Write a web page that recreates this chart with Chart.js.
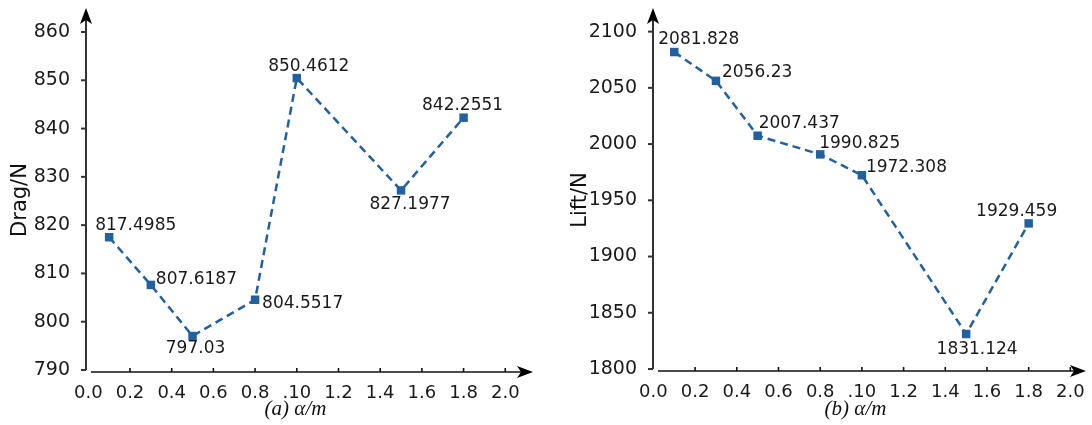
<!DOCTYPE html>
<html>
<head>
<meta charset="utf-8">
<script src="https://cdn.jsdelivr.net/npm/chart.js@4.4.1/dist/chart.umd.min.js"></script>
<style>
  body { margin: 0; background: #fff; }
  .wrap { display: flex; width: 1092px; height: 425px; }
  canvas { display: block; }
</style>
</head>
<body>
<div class="wrap">
  <canvas id="dragChart" width="546" height="425"></canvas>
  <canvas id="liftChart" width="546" height="425"></canvas>
</div>
<script>
// alpha positions shared by both plots
var alphaVals = [0.1, 0.3, 0.5, 0.8, 1.0, 1.5, 1.8];
var dragVals = [817.4985, 807.6187, 797.03, 804.5517, 850.4612, 827.1977, 842.2551];
var liftVals = [2081.828, 2056.23, 2007.437, 1990.825, 1972.308, 1831.124, 1929.459];

var xTickVals = [0, 0.2, 0.4, 0.6, 0.8, 1.0, 1.2, 1.4, 1.6, 1.8, 2.0];
var xTickLabels = ['0.0', '0.2', '0.4', '0.6', '0.8', '.10', '1.2', '1.4', '1.6', '1.8', '2.0'];
var dragTicks = [790, 800, 810, 820, 830, 840, 850, 860];
var liftTicks = [1800, 1850, 1900, 1950, 2000, 2050, 2100];

// value label placement: [dx, dy, textAlign]
var dragLabelPos = [[-14, -12, 'left'], [5, -5, 'left'], [3, 13, 'center'], [7, 4, 'left'],
                    [12, -11, 'center'], [9, 14, 'center'], [-1, -12, 'center']];
var liftLabelPos = [[-16, -12, 'left'], [6, -8, 'left'], [1, -12, 'left'], [-1, -11, 'left'],
                    [4, -8, 'left'], [11, 16, 'center'], [-12, -12, 'center']];

var BLUE = '#22609f';
var AXIS = '#333333';
var FONT = "'DejaVu Sans', sans-serif";

function arrowHead(ctx, x, y, dir) {
    // notched arrow, dir: 'up' or 'right'
    ctx.save();
    ctx.translate(x, y);
    if (dir === 'right') ctx.rotate(Math.PI / 2);
    ctx.beginPath();
    ctx.moveTo(0, 0);
    ctx.lineTo(6, 16);
    ctx.lineTo(0, 12);
    ctx.lineTo(-6, 16);
    ctx.closePath();
    ctx.fillStyle = '#000';
    ctx.fill();
    ctx.restore();
}

var decorPlugin = {
    id: 'decor',
    afterDraw: function (chart) {
        var o = chart.options.plugins.decor;
        var ctx = chart.ctx;
        var a = chart.chartArea;
        var xs = chart.scales.x, ys = chart.scales.y;
        ctx.save();
        ctx.strokeStyle = AXIS;
        ctx.lineWidth = 2;
        // y axis
        ctx.beginPath();
        ctx.moveTo(a.left, a.bottom);
        ctx.lineTo(a.left, a.top + 10);
        ctx.stroke();
        arrowHead(ctx, a.left, a.top, 'up');
        ys.ticks.forEach(function (t) {
            var py = ys.getPixelForValue(t.value);
            ctx.beginPath();
            ctx.moveTo(a.left - 5, py);
            ctx.lineTo(a.left, py);
            ctx.stroke();
        });
        // x axis
        var axY = a.bottom + 2;
        ctx.lineWidth = 1.6;
        ctx.strokeStyle = '#111';
        ctx.beginPath();
        ctx.moveTo(a.left + 5, axY);
        ctx.lineTo(a.right - 10, axY);
        ctx.stroke();
        arrowHead(ctx, a.right, axY, 'right');
        xs.ticks.forEach(function (t) {
            var px = xs.getPixelForValue(t.value);
            if (px < a.left + 5) return;
            ctx.beginPath();
            ctx.moveTo(px, axY);
            ctx.lineTo(px, axY - 4);
            ctx.stroke();
        });

        // value labels
        var meta = chart.getDatasetMeta(0);
        var vals = chart.data.datasets[0].data;
        ctx.font = '17px ' + FONT;
        ctx.fillStyle = '#1a1a1a';
        ctx.textBaseline = 'middle';
        meta.data.forEach(function (pt, i) {
            var p = o.labelPos[i];
            ctx.textAlign = p[2];
            ctx.fillText(String(vals[i].y), pt.x + p[0], pt.y + p[1]);
        });

        // axis titles
        ctx.fillStyle = '#111';
        ctx.textAlign = 'center';
        ctx.font = 'italic 21px "Liberation Serif", serif';
        ctx.fillText(o.xTitle, (a.left + a.right) / 2 - 14, 409);
        ctx.save();
        ctx.translate(o.yTitleX, 200);
        ctx.rotate(-Math.PI / 2);
        ctx.font = '21px ' + FONT;
        ctx.fillText(o.yTitle, 0, 0);
        ctx.restore();
        ctx.restore();
    }
};

function noPad(s) {
    s.paddingTop = 0;
    s.paddingBottom = 0;
    s.paddingLeft = 0;
    s.paddingRight = 0;
}

function makeChart(id, vals, yTicks, cfg) {
    var ctx = document.getElementById(id).getContext('2d');
    return new Chart(ctx, {
        type: 'scatter',
        data: {
            datasets: [{
                data: alphaVals.map(function (a, i) { return { x: a, y: vals[i] }; }),
                showLine: true,
                borderColor: BLUE,
                borderWidth: 2.5,
                borderDash: [8, 5],
                backgroundColor: BLUE,
                pointStyle: 'rect',
                pointRadius: 6,
                pointBorderWidth: 0,
                pointHoverRadius: 6
            }]
        },
        options: {
            responsive: false,
            animation: false,
            layout: { padding: { top: 8, right: cfg.padRight, left: 0, bottom: 0 } },
            plugins: {
                legend: { display: false },
                tooltip: { enabled: false },
                decor: {
                    labelPos: cfg.labelPos,
                    xTitle: cfg.xTitle,
                    yTitle: cfg.yTitle,
                    yTitleX: cfg.yTitleX
                }
            },
            scales: {
                x: {
                    type: 'linear',
                    min: cfg.xMin,
                    max: cfg.xMax,
                    grid: { display: false },
                    border: { display: false },
                    afterBuildTicks: function (s) {
                        s.ticks = xTickVals.map(function (v) { return { value: v }; });
                    },
                    afterFit: function (s) { s.height = cfg.xHeight; noPad(s); },
                    ticks: {
                        padding: 5,
                        maxRotation: 0,
                        autoSkip: false,
                        color: '#1a1a1a',
                        font: { family: FONT, size: 18 },
                        callback: function (v, i) { return xTickLabels[i]; }
                    }
                },
                y: {
                    min: cfg.yMin,
                    max: cfg.yMax,
                    grid: { display: false },
                    border: { display: false },
                    afterBuildTicks: function (s) {
                        s.ticks = yTicks.map(function (v) { return { value: v }; });
                    },
                    afterFit: function (s) { s.width = cfg.yWidth; noPad(s); },
                    ticks: {
                        padding: 8,
                        color: '#1a1a1a',
                        font: { family: FONT, size: 19 },
                        callback: function (v) { return String(v); }
                    }
                }
            }
        },
        plugins: [decorPlugin]
    });
}

makeChart('dragChart', dragVals, dragTicks, {
    xMin: -0.011, xMax: 2.133, yMin: 790, yMax: 864.97,
    yWidth: 86, xHeight: 55, padRight: 13,
    labelPos: dragLabelPos, xTitle: '(a) \u03b1/m', yTitle: 'Drag/N', yTitleX: 21
});

makeChart('liftChart', liftVals, liftTicks, {
    xMin: -0.002, xMax: 2.075, yMin: 1800, yMax: 2121,
    yWidth: 107, xHeight: 56, padRight: 2,
    labelPos: liftLabelPos, xTitle: '(b) \u03b1/m', yTitle: 'Lift/N', yTitleX: 35
});
</script>
</body>
</html>
